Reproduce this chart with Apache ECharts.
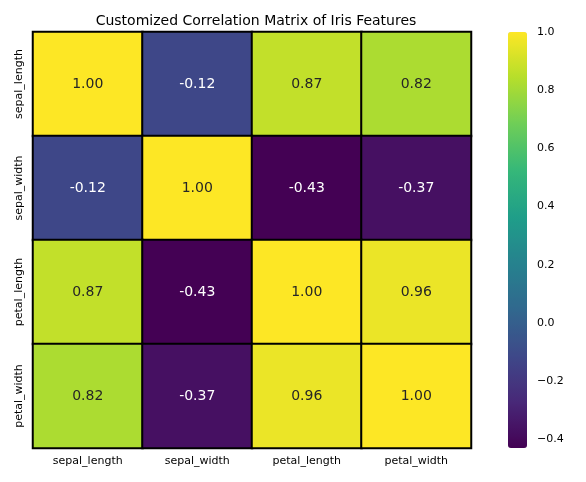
<!DOCTYPE html><html><head><meta charset="utf-8"><script src="https://cdn.jsdelivr.net/npm/echarts@6/dist/echarts.min.js"></script></head><body style="margin:0"><div id="c" style="width:586px;height:482px"></div><script>
const categories=['sepal_length','sepal_width','petal_length','petal_width'];
const matrix=[[1.00,-0.12,0.87,0.82],[-0.12,1.00,-0.43,-0.37],[0.87,-0.43,1.00,0.96],[0.82,-0.37,0.96,1.00]];
const cbTicks=[-0.4,-0.2,0.0,0.2,0.4,0.6,0.8,1.0];
const data=[];matrix.forEach((r,i)=>r.forEach((v,j)=>data.push([j,i,v])));
const viridis=['#440154','#482878','#3e4989','#31688e','#26828e','#1f9e89','#35b779','#6ece58','#b5de2b','#fde725'];
const ch=echarts.init(document.getElementById('c'));
ch.setOption({
title:{text:'Customized Correlation Matrix of Iris Features',left:251,top:9,textAlign:'center',textStyle:{fontFamily:'DejaVu Sans',fontSize:14,fontWeight:'normal',color:'#000'}},
grid:[{left:33,top:32,width:438,height:416},{left:508,top:32,width:19,height:416}],
xAxis:[{type:'category',data:categories,gridIndex:0,axisLine:{show:false},axisTick:{length:4,lineStyle:{color:'#000'}},axisLabel:{color:'#000',fontFamily:'DejaVu Sans',fontSize:11}},
{type:'value',gridIndex:1,show:false}],
yAxis:[{type:'category',data:categories,inverse:true,gridIndex:0,axisLine:{show:false},axisTick:{length:4,lineStyle:{color:'#000'}},axisLabel:{color:'#000',fontFamily:'DejaVu Sans',fontSize:11,rotate:90,margin:8}},
{type:'value',gridIndex:1,position:'right',min:-0.43,max:1.0,interval:0.01,splitLine:{show:false},axisLine:{show:false},axisTick:{show:false},
axisLabel:{color:'#000',fontFamily:'DejaVu Sans',fontSize:11,margin:10,formatter:v=>{const k=v*5;if(Math.abs(k-Math.round(k))<1e-6&&v>=-0.4001){return (v<-1e-9?'\u2212':'')+Math.abs(v).toFixed(1);}return '';}}}],
visualMap:{type:'continuous',min:-0.43,max:1.0,calculable:false,left:508,top:32,padding:0,itemWidth:19,itemHeight:416,text:null,showLabel:false,inRange:{color:viridis},seriesIndex:0},
series:[{type:'heatmap',data:data.map(d=>({value:d,label:{color:d[2]>0.5?'#262626':'#fff'}})),xAxisIndex:0,yAxisIndex:0,itemStyle:{borderColor:'#000',borderWidth:2},
label:{show:true,fontFamily:'DejaVu Sans',fontSize:14,formatter:p=>p.value[2].toFixed(2)}}]
});
</script></body></html>
